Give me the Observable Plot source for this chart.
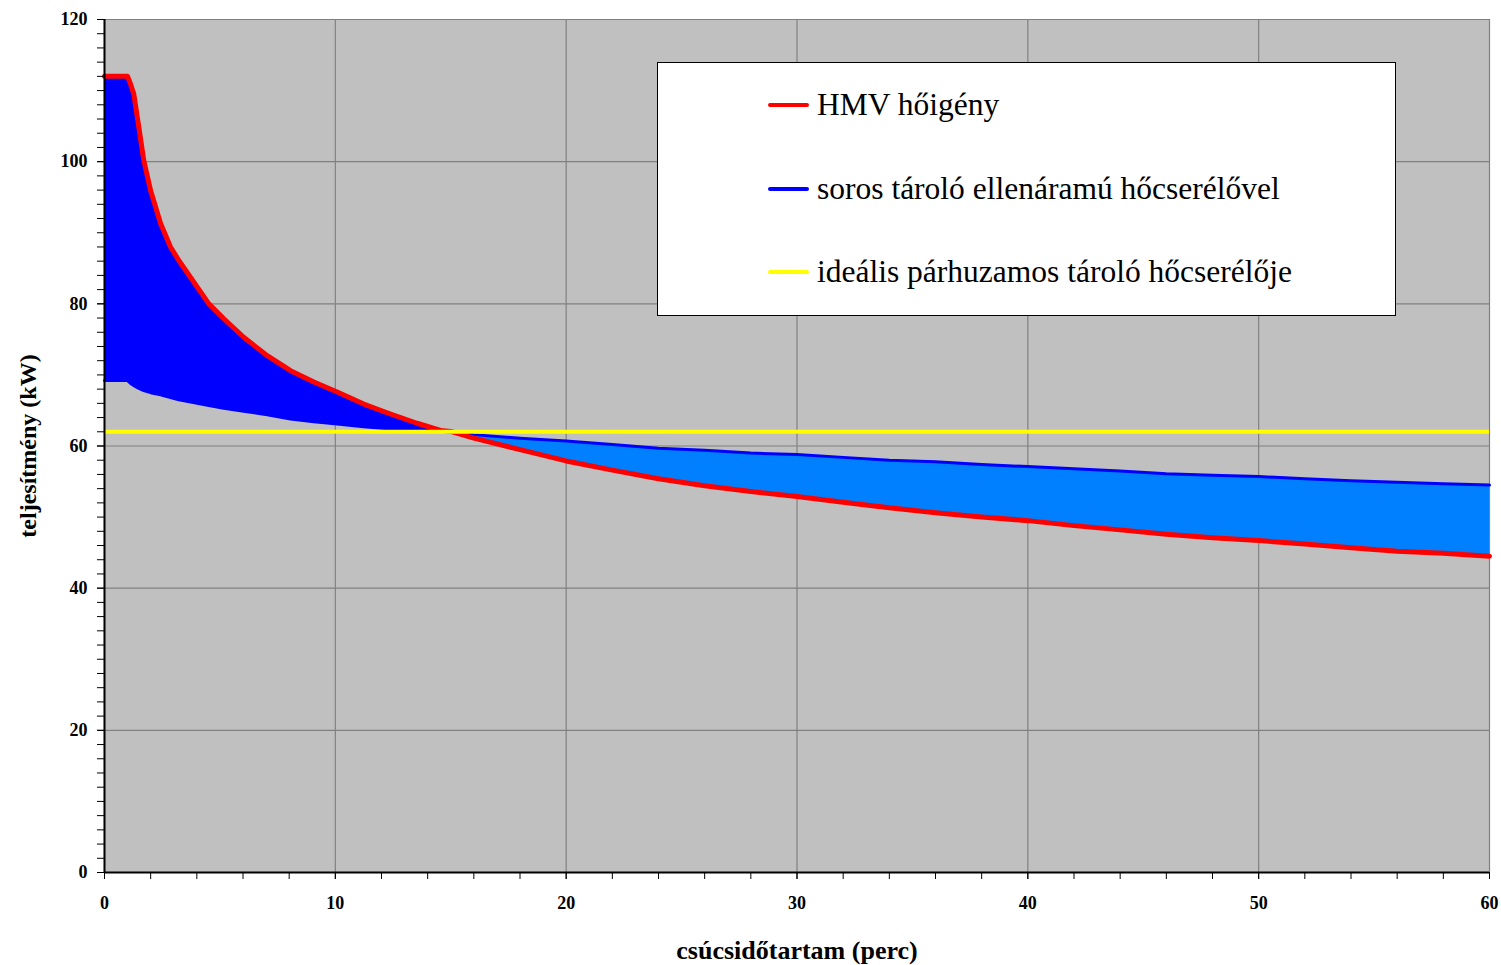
<!DOCTYPE html>
<html><head><meta charset="utf-8">
<script src="https://cdn.jsdelivr.net/npm/d3@7"></script>
<script src="https://cdn.jsdelivr.net/npm/@observablehq/plot@0.6"></script>
<style>
body{margin:0;background:#fff;}
#wrap{position:relative;width:1501px;height:965px;}
#legend{position:absolute;left:657px;top:62px;width:737px;height:252px;border:1.5px solid #000;background:#fff;font-family:"Liberation Serif",serif;font-size:31.5px;color:#000;}
.row{position:absolute;left:110px;height:34px;display:flex;align-items:center;white-space:nowrap;}
.sw{width:41px;height:4px;margin-right:8px;border-radius:2px;}
</style></head><body><div id="wrap"><div id="legend"></div></div>
<script>
// peak duration (minutes)
const minutes = [0,1,1.13,1.27,1.49,1.7,2,2.43,2.86,3.22,3.73,4.52,5.17,6.03,7.05,8.06,9.07,10.08,11.23,12.39,13.54,14.56,15,16,18,20,22,24,26,28,30,32,34,36,38,40,42,44,46,48,50,52,54,56,58,60];
// HMV hőigény (kW)
const hmvDemand = [112,112,110.9,109.5,104.8,100.2,95.9,91.3,88.0,86.1,83.7,80.0,77.9,75.3,72.7,70.6,69.0,67.6,65.9,64.5,63.2,62.2,62.05,61.1,59.5,57.9,56.6,55.4,54.4,53.6,52.9,52.1,51.3,50.6,50,49.5,48.8,48.2,47.6,47.1,46.7,46.2,45.7,45.2,44.9,44.5];
// soros tároló ellenáramú hőcserélővel (kW)
const serialStorage = [69.2,69.2,68.8,68.5,68.1,67.8,67.5,67.2,66.8,66.5,66.2,65.7,65.3,64.9,64.4,63.8,63.4,63.1,62.7,62.4,62.2,62.1,62.05,61.6,61.1,60.7,60.2,59.7,59.4,59.0,58.8,58.4,58.0,57.8,57.4,57.1,56.8,56.5,56.1,55.9,55.7,55.4,55.1,54.9,54.7,54.5];
// ideális párhuzamos tároló hőcserélője (kW)
const idealParallel = 62;
const crossover = 15;

const legendLabels = ["HMV hőigény","soros tároló ellenáramú hőcserélővel","ideális párhuzamos tároló hőcserélője"];
const legendColors = ["#FF0000","#0000FF","#FFFF00"];
const xMajorTicks = [0,10,20,30,40,50,60];
const xMinorTicks = d3.range(0,61,2);
const yMajorTicks = [0,20,40,60,80,100,120];
const yMinorTicks = d3.range(0,121,2);
const xTitle = "csúcsidőtartam (perc)";
const yTitle = "teljesítmény (kW)";

const data = minutes.map((t,i)=>({t, hmv: hmvDemand[i], soros: serialStorage[i]}));
const left = data.filter(d=>d.t<=crossover);
const right = data.filter(d=>d.t>=crossover);

const chart = Plot.plot({
  width:1501, height:965,
  marginLeft:104, marginRight:12, marginTop:19, marginBottom:93,
  x:{domain:[0,60]}, y:{domain:[0,120]},
  style:{fontFamily:"'Liberation Serif', serif", fontWeight:"bold", fontSize:"18px", background:"#fff", color:"#000"},
  marks:[
    Plot.frame({fill:"#C0C0C0", stroke:null}),
    Plot.gridX(xMajorTicks, {stroke:"#808080", strokeOpacity:1, strokeWidth:1.2}),
    Plot.gridY(yMajorTicks, {stroke:"#808080", strokeOpacity:1, strokeWidth:1.2}),
    Plot.areaY(left, {x:"t", y1:"soros", y2:"hmv", fill:"#0000FF"}),
    Plot.areaY(right, {x:"t", y1:"hmv", y2:"soros", fill:"#0080FF"}),
    Plot.line(data, {x:"t", y:"soros", stroke:"#0000FF", strokeWidth:3}),
    Plot.line(data, {x:"t", y:"hmv", stroke:"#FF0000", strokeWidth:5}),
    Plot.ruleY([idealParallel], {stroke:"#FFFF00", strokeWidth:4}),
    Plot.ruleX([0], {stroke:"#000", strokeWidth:2}),
    Plot.ruleY([0], {stroke:"#000", strokeWidth:2}),
    Plot.axisY(yMinorTicks, {tickSize:7, tickFormat:()=>"", label:null}),
    Plot.axisY(yMajorTicks, {tickSize:7, tickPadding:10, label:null, fontSize:18}),
    Plot.axisX(xMinorTicks, {tickSize:7, tickFormat:()=>"", label:null}),
    Plot.axisX(xMajorTicks, {tickSize:7, tickPadding:17, label:null, fontSize:18}),
    Plot.text([yTitle], {frameAnchor:"left", dx:-76, rotate:-90, textAnchor:"middle", lineAnchor:"middle", fontSize:24, fontWeight:"bold"}),
    Plot.text([xTitle], {frameAnchor:"bottom", dy:78, textAnchor:"middle", lineAnchor:"middle", fontSize:26, fontWeight:"bold"})
  ]
});
document.getElementById("wrap").prepend(chart);

const leg = document.getElementById("legend");
const rowTops = [25,109,192];
legendLabels.forEach((lab,i)=>{
  const r = document.createElement("div");
  r.className = "row";
  r.style.top = rowTops[i]+"px";
  const sw = document.createElement("div");
  sw.className = "sw"; sw.style.background = legendColors[i];
  const tx = document.createElement("span");
  tx.textContent = lab;
  r.appendChild(sw); r.appendChild(tx);
  leg.appendChild(r);
});
</script>
</body></html>
